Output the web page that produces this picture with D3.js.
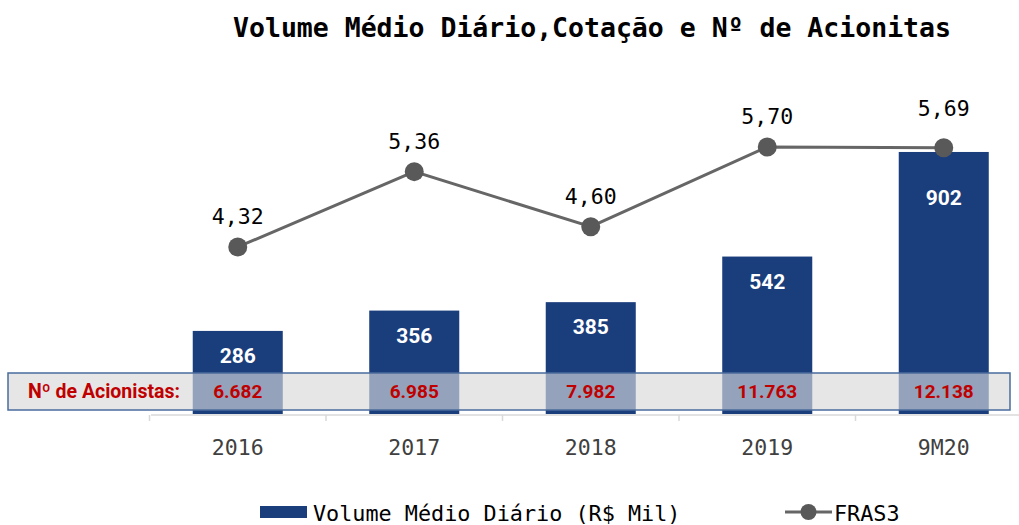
<!DOCTYPE html>
<html>
  <head>
    <meta charset="utf-8">
    <title>Volume Médio Diário</title>
    <script src="https://cdn.jsdelivr.net/npm/d3@7"></script>
<style type="text/css">
body { margin: 0; background: #fff; }
svg text.mono { font-family: "DejaVu Sans Mono", monospace; }
svg text.sans { font-family: Roboto, "Liberation Sans", sans-serif; font-weight: bold; }
.domain { stroke: #d9d9d9; stroke-width: 1.5px; }
.tick-line { stroke: #d9d9d9; stroke-width: 1.5px; }
</style>
  </head>
  <body>
    <div id="chart"></div>
    <script>

// dados
var categorias = ["2016", "2017", "2018", "2019", "9M20"];
var volume = [286, 356, 385, 542, 902];
var cotacao = [4.32, 5.36, 4.60, 5.70, 5.69];
var acionistas = ["6.682", "6.985", "7.982", "11.763", "12.138"];

var W = 1019, H = 525;

var svg = d3.select("#chart").append("svg")
            .attr("width", W)
            .attr("height", H);

// escalas
var x = d3.scaleBand()
            .domain(categorias)
            .range([149.5, 1032])
            .paddingInner(0.49)
            .paddingOuter(0.245);

var y = d3.scaleLinear()
            .domain([0, 1000])
            .range([414, 123.5]);

var y2 = d3.scaleLinear()
            .domain([0, 7])
            .range([560, 52.8]);

var cx = function(c) { return x(c) + x.bandwidth() / 2; };

// titulo
svg.append("text")
    .attr("class", "mono")
    .attr("x", 592)
    .attr("y", 37)
    .attr("text-anchor", "middle")
    .style("font-size", "26.5px")
    .style("font-weight", "bold")
    .attr("fill", "#000")
    .text("Volume Médio Diário,Cotação e Nº de Acionitas");

// faixa de acionistas (fundo)
var band = { x: 8, y: 373, w: 1002, h: 37 };
svg.append("rect")
    .attr("x", band.x).attr("y", band.y)
    .attr("width", band.w).attr("height", band.h)
    .attr("fill", "#e6e6e6");

// barras
svg.selectAll("rect.bar")
    .data(volume)
    .enter()
    .append("rect")
    .attr("class", "bar")
    .attr("x", function(d, i) { return x(categorias[i]); })
    .attr("y", function(d) { return y(d); })
    .attr("width", x.bandwidth())
    .attr("height", function(d) { return y(0) - y(d); })
    .attr("fill", "#1a3d7c");

// faixa por cima (semi-transparente)
svg.append("rect")
    .attr("x", band.x).attr("y", band.y)
    .attr("width", band.w).attr("height", band.h)
    .attr("fill", "#e6e6e6")
    .attr("fill-opacity", 0.6)
    .attr("stroke", "#4a6b9c")
    .attr("stroke-width", 1.5);

svg.append("text")
    .attr("class", "sans")
    .attr("x", 104)
    .attr("y", 398)
    .attr("text-anchor", "middle")
    .style("font-size", "19.5px")
    .attr("fill", "#c00000")
    .text("Nº de Acionistas:");

svg.selectAll("text.acion")
    .data(acionistas)
    .enter()
    .append("text")
    .attr("class", "sans acion")
    .attr("x", function(d, i) { return cx(categorias[i]); })
    .attr("y", 398)
    .attr("text-anchor", "middle")
    .style("font-size", "19px")
    .attr("fill", "#c00000")
    .text(function(d) { return d; });

// eixo x
var step = x.step();
var gx = svg.append("g")
    .attr("transform", "translate(0," + 415 + ")");
gx.append("line")
    .attr("class", "domain")
    .attr("x1", x.range()[0] + 1.5).attr("x2", W)
    .attr("y1", 0).attr("y2", 0);
gx.selectAll("line.tick-line")
    .data(categorias)
    .enter()
    .append("line")
    .attr("class", "tick-line")
    .attr("x1", function(d) { return cx(d) - step / 2; })
    .attr("x2", function(d) { return cx(d) - step / 2; })
    .attr("y1", 0).attr("y2", 6);
gx.selectAll("text")
    .data(categorias)
    .enter()
    .append("text")
    .attr("class", "mono")
    .attr("x", function(d) { return cx(d); })
    .attr("y", 40)
    .attr("text-anchor", "middle")
    .style("font-size", "21.5px")
    .attr("fill", "#404040")
    .text(function(d) { return d; });

// rotulos das barras
svg.selectAll("text.vol")
    .data(volume)
    .enter()
    .append("text")
    .attr("class", "sans vol")
    .attr("x", function(d, i) { return cx(categorias[i]); })
    .attr("y", function(d, i) {
        return Math.max(y(d) + 32, y2(cotacao[i]) + 57);
    })
    .attr("text-anchor", "middle")
    .style("font-size", "21px")
    .attr("fill", "#fff")
    .text(function(d) { return d; });

// linha FRAS3
var line = d3.line()
    .x(function(d, i) { return cx(categorias[i]); })
    .y(function(d) { return y2(d); })
    .curve(d3.curveLinear);

svg.append("path")
    .datum(cotacao)
    .attr("fill", "none")
    .attr("stroke", "#666")
    .attr("stroke-width", 3)
    .attr("d", line);

svg.selectAll("circle.pt")
    .data(cotacao)
    .enter()
    .append("circle")
    .attr("class", "pt")
    .attr("cx", function(d, i) { return cx(categorias[i]); })
    .attr("cy", function(d) { return y2(d); })
    .attr("r", 9.5)
    .attr("fill", "#595959");

var fmt = function(v) { return v.toFixed(2).replace(".", ","); };
svg.selectAll("text.cot")
    .data(cotacao)
    .enter()
    .append("text")
    .attr("class", "mono cot")
    .attr("x", function(d, i) { return cx(categorias[i]); })
    .attr("y", function(d, i) {
        return y2(d) - (i === cotacao.length - 1 ? 32 : 23);
    })
    .attr("text-anchor", "middle")
    .style("font-size", "21.5px")
    .attr("fill", "#000")
    .text(fmt);

// legenda
var lg = svg.append("g");
lg.append("rect")
    .attr("x", 260).attr("y", 506)
    .attr("width", 47).attr("height", 12)
    .attr("fill", "#1a3d7c");
lg.append("text")
    .attr("class", "mono")
    .attr("x", 313).attr("y", 521)
    .style("font-size", "21.8px")
    .attr("fill", "#000")
    .text("Volume Médio Diário (R$ Mil)");
lg.append("line")
    .attr("x1", 785).attr("x2", 832)
    .attr("y1", 512).attr("y2", 512)
    .attr("stroke", "#666").attr("stroke-width", 3);
lg.append("circle")
    .attr("cx", 808.5).attr("cy", 512).attr("r", 8)
    .attr("fill", "#595959");
lg.append("text")
    .attr("class", "mono")
    .attr("x", 834).attr("y", 521)
    .style("font-size", "21.8px")
    .attr("fill", "#000")
    .text("FRAS3");

    </script>
  </body>
</html>
